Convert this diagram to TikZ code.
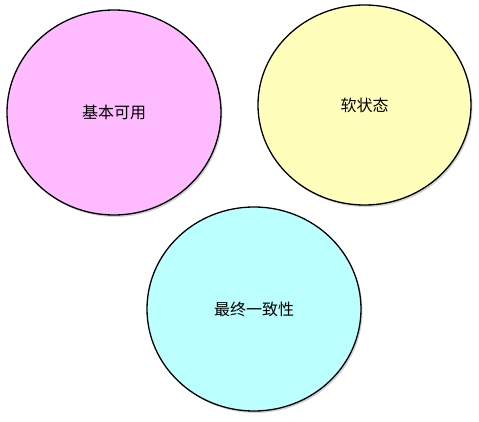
\documentclass[tikz,border=0pt]{standalone}
\usepackage{fontspec}
\newfontfamily\cjk{Noto Sans CJK SC}
\usepackage{tikz}
\usetikzlibrary{shapes.geometric,shadows}
\definecolor{basePink}{HTML}{FFBBFF}
\definecolor{softYellow}{HTML}{FFFFBB}
\definecolor{finalCyan}{HTML}{BBFFFF}

\begin{document}
\begin{tikzpicture}[x=1pt,y=-1pt,every node/.style={ellipse,draw=black,line width=1.3pt,font=\cjk\fontsize{16}{19}\selectfont,drop shadow={shadow xshift=1.5pt,shadow yshift=-2pt,opacity=0.35}}]

            % Keep the page as large as the reference
            \useasboundingbox (0,0) rectangle (479,422);

            \node (mBasic) [fill=basePink,minimum width=214pt,minimum height=205pt] at (114,112.5) {基本可用};

            \node (mSoft) [fill=softYellow,minimum width=213pt,minimum height=200pt] at (364.5,105) {软状态};

            \node (mFinal) [fill=finalCyan,minimum width=214pt,minimum height=204pt] at (254,309) {最终一致性};

            \end{tikzpicture}
\end{document}
